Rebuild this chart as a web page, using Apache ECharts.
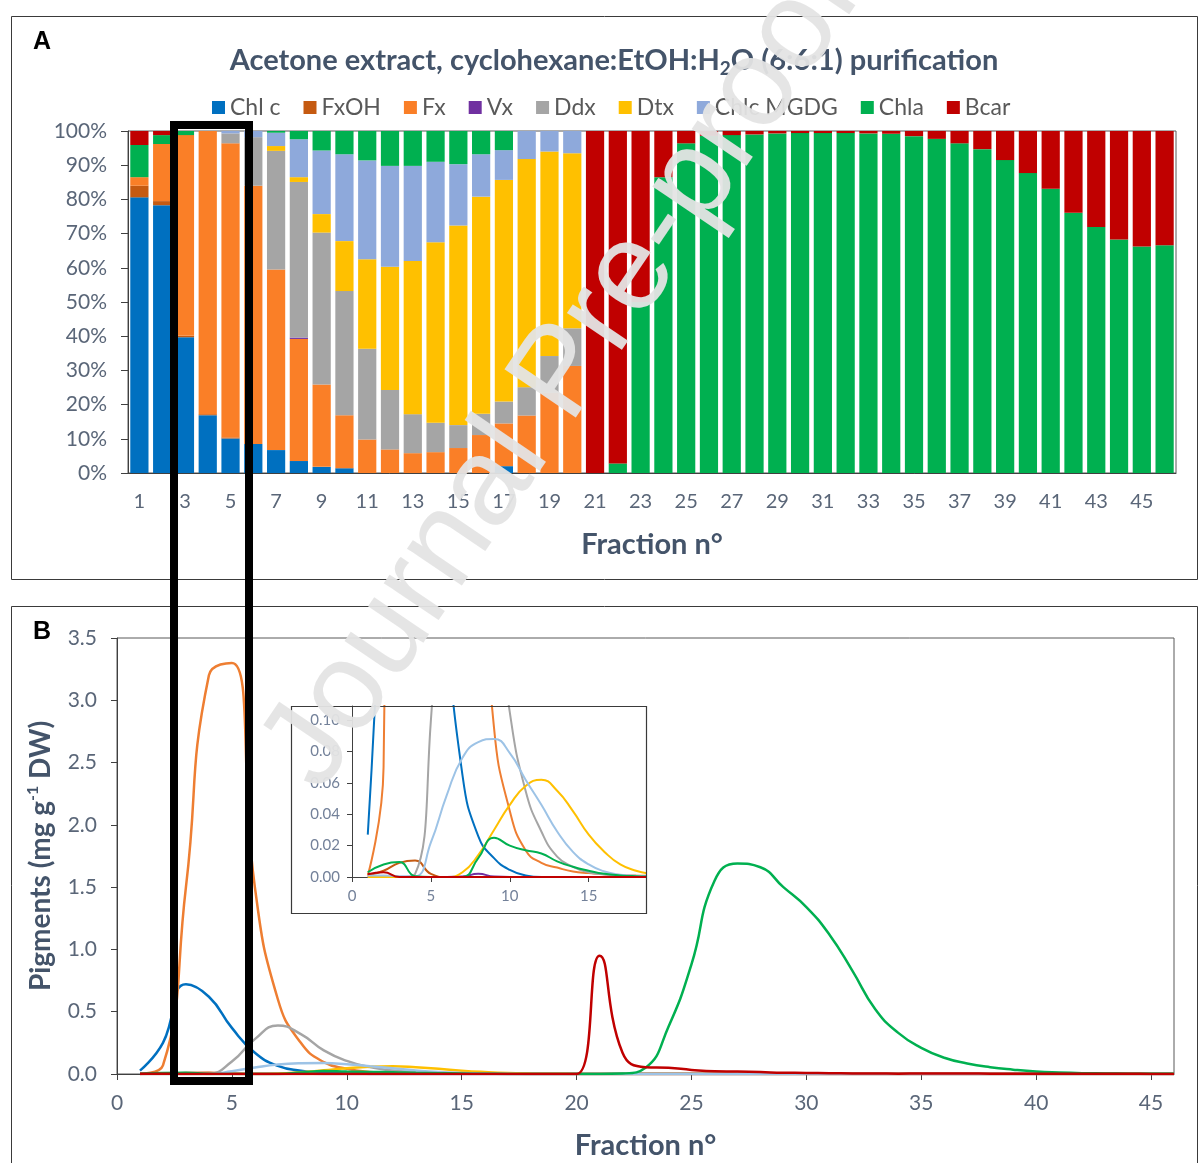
<!DOCTYPE html>
<html><head><meta charset="utf-8">
<script src="https://cdn.jsdelivr.net/npm/echarts@6/dist/echarts.min.js"></script>
<style>html,body{margin:0;padding:0;background:#fff}#c{width:1198px;height:1163px}</style>
</head><body><div id="c"></div>
<script>
// ---------- DATA ----------
const fractions = [1,2,3,4,5,6,7,8,9,10,11,12,13,14,15,16,17,18,19,20,21,22,23,24,25,26,27,28,29,30,31,32,33,34,35,36,37,38,39,40,41,42,43,44,45,46];
const pigmentNames = ['Chl c','FxOH','Fx','Vx','Ddx','Dtx','Chlc MGDG','Chla','Bcar'];

// Panel A: relative composition (%)
const chlcPct = [80.6,78.3,39.7,16.9,10.1,8.5,6.7,3.5,1.8,1.4, 0,0,0,0,0,0,2.0,0,0,0, 0,0,0,0,0,0,0,0,0,0, 0,0,0,0,0,0,0,0,0,0, 0,0,0,0,0,0];
const fxohPct = [3.4,1.2,0.4,0.3,0.3,0,0,0,0,0, 0,0,0,0,0,0,0,0,0,0, 0,0,0,0,0,0,0,0,0,0, 0,0,0,0,0,0,0,0,0,0, 0,0,0,0,0,0];
const fxPct   = [2.5,16.7,58.7,82.8,86.0,75.5,52.8,35.7,24.1,15.5, 9.8,6.9,5.8,6.1,7.3,11.1,12.5,16.8,23.5,31.3, 0,0,0,0,0,0,0,0,0,0, 0,0,0,0,0,0,0,0,0,0, 0,0,0,0,0,0];
const vxPct   = [0,0,0,0,0,0,0,0.4,0,0, 0,0,0,0,0,0,0,0,0,0, 0,0,0,0,0,0,0,0,0,0, 0,0,0,0,0,0,0,0,0,0, 0,0,0,0,0,0];
const ddxPct  = [0,0,0,0,2.9,14.2,34.7,45.5,44.4,36.3, 26.5,17.4,11.4,8.6,6.7,6.2,6.4,8.3,10.7,11.0, 0,0,0,0,0,0,0,0,0,0, 0,0,0,0,0,0,0,0,0,0, 0,0,0,0,0,0];
const dtxPct  = [0,0,0,0,0,0,1.4,1.4,5.4,14.6, 26.2,36.0,44.8,52.8,58.4,63.5,64.8,66.7,59.8,51.2, 0,0,0,0,0,0,0,0,0,0, 0,0,0,0,0,0,0,0,0,0, 0,0,0,0,0,0];
const mgdgPct = [0,0,0,0,0.7,1.8,3.9,11.1,18.6,25.4, 28.9,29.5,27.8,23.5,17.9,12.4,8.7,8.2,6.0,6.5, 0,0,0,0,0,0,0,0,0,0, 0,0,0,0,0,0,0,0,0,0, 0,0,0,0,0,0];
const chlaPct = [9.4,2.6,1.2,0,0,0,0.5,2.4,5.7,6.8, 8.6,10.2,10.2,9.0,9.7,6.8,5.6,0,0,0, 0,2.8,50,86.5,96.4,98.6,98.8,99.0,99.3,99.4, 99.4,99.4,99.3,99.2,98.5,97.7,96.4,94.7,91.5,87.7, 83.1,76.1,71.9,68.3,66.2,66.6];
const bcarPct = [4.1,1.2,0,0,0,0,0,0,0,0, 0,0,0,0,0,0,0,0,0,0, 100,97.2,50,13.5,3.6,1.4,1.2,1.0,0.7,0.6, 0.6,0.6,0.7,0.8,1.5,2.3,3.6,5.3,8.5,12.3, 16.9,23.9,28.1,31.7,33.8,33.4];

// Panel B: pigment amount (mg g-1 DW)
const chlcMg = [0.027,0.25,0.72,0.62,0.37,0.17,0.065,0.026,0.012,0.0045, 0.001,0,0,0,0,0,0.0003,0,0,0, 0,0,0,0,0,0,0,0,0,0, 0,0,0,0,0,0,0,0,0,0, 0,0,0,0,0,0];
const fxohMg = [0.001,0.004,0.009,0.0105,0.002,0,0,0,0,0, 0,0,0,0,0,0,0,0,0,0, 0,0,0,0,0,0,0,0,0,0, 0,0,0,0,0,0,0,0,0,0, 0,0,0,0,0,0];
const fxMg   = [0.001,0.07,1.5,3.2,3.3,1.5,0.6,0.25,0.095,0.042, 0.017,0.009,0.006,0.0035,0.0025,0.0018,0.0012,0.0009,0.0007,0.0005, 0,0,0,0,0,0,0,0,0,0, 0,0,0,0,0,0,0,0,0,0, 0,0,0,0,0,0];
const vxMg   = [0,0,0,0,0,0,0.0003,0.002,0.0003,0, 0,0,0,0,0,0,0,0,0,0, 0,0,0,0,0,0,0,0,0,0, 0,0,0,0,0,0,0,0,0,0, 0,0,0,0,0,0];
const ddxMg  = [0,0,0,0.002,0.1,0.28,0.39,0.32,0.19,0.105, 0.055,0.029,0.013,0.0065,0.003,0.0016,0.001,0.0006,0.0004,0.0003, 0,0,0,0,0,0,0,0,0,0, 0,0,0,0,0,0,0,0,0,0, 0,0,0,0,0,0];
const dtxMg  = [0,0,0,0,0,0,0.003,0.014,0.03,0.046, 0.058,0.062,0.055,0.042,0.027,0.016,0.008,0.004,0.002,0.001, 0,0,0,0,0,0,0,0,0,0, 0,0,0,0,0,0,0,0,0,0, 0,0,0,0,0,0];
const mgdgMg = [0.001,0.001,0.0005,0.0005,0.022,0.052,0.076,0.086,0.088,0.079, 0.062,0.046,0.029,0.016,0.008,0.0035,0.0015,0.0008,0.0005,0.0003, 0,0,0,0,0,0,0,0,0,0, 0,0,0,0,0,0,0,0,0,0, 0,0,0,0,0,0];
const chlaMg = [0.003,0.008,0.0095,0.0005,0,0,0,0.012,0.025,0.02, 0.017,0.015,0.01,0.0065,0.004,0.002,0.001,0.0005,0.0003,0.0002, 0.0002,0.004,0.05,0.38,0.88,1.55,1.69,1.66,1.5,1.34, 1.12,0.83,0.52,0.33,0.21,0.13,0.085,0.055,0.035,0.02, 0.012,0.007,0.005,0.003,0.002,0.002];
const bcarMg = [0.0017,0.003,0,0,0,0,0,0,0,0, 0,0,0,0,0,0,0,0,0,0, 0.95,0.17,0.055,0.05,0.033,0.022,0.02,0.016,0.01,0.009, 0.007,0.005,0.004,0.003,0.0033,0.0033,0.0033,0.003,0.003,0.0028, 0.0025,0.0022,0.002,0.0015,0.001,0.001];

// ---------- STYLE ----------
const barColors  = ['#0070C0','#C55A11','#FA7F27','#7030A0','#A5A5A5','#FFC000','#8EA9DB','#00B050','#C00000'];
const lineColors = ['#0070C0','#C55A11','#EE7E32','#7030A0','#A5A5A5','#FFC000','#9DC3E6','#00B050','#C00000'];
const FONT = 'Lato';
const labelColor = '#5A6678';
const titleColor = '#44546A';
const axisDark = '#404040';
const SMOOTH = 0.5;

const pctSets = [chlcPct,fxohPct,fxPct,vxPct,ddxPct,dtxPct,mgdgPct,chlaPct,bcarPct];
const mgSets  = [chlcMg,fxohMg,fxMg,vxMg,ddxMg,dtxMg,mgdgMg,chlaMg,bcarMg];
const catLabels = fractions.map(String);

const series = [];
pigmentNames.forEach((n,i)=>{
  series.push({name:n, type:'bar', stack:'pct', xAxisIndex:0, yAxisIndex:0,
    barCategoryGap:'20%', itemStyle:{color:barColors[i]}, data:pctSets[i]});
});
pigmentNames.forEach((n,i)=>{
  series.push({name:n+' (B)', type:'line', xAxisIndex:1, yAxisIndex:1, showSymbol:false,
    smooth:SMOOTH, lineStyle:{width:2.5, color:lineColors[i]}, itemStyle:{color:lineColors[i]},
    data:fractions.map((f,k)=>[f, mgSets[i][k]])});
});
pigmentNames.forEach((n,i)=>{
  series.push({name:n+' (inset)', type:'line', xAxisIndex:2, yAxisIndex:2, showSymbol:false,
    smooth:SMOOTH, lineStyle:{width:2, color:lineColors[i]}, itemStyle:{color:lineColors[i]},
    data:fractions.map((f,k)=>[f, mgSets[i][k]])});
});

const nameStyle = {fontSize:29, fontWeight:'bold', color:titleColor, fontFamily:FONT};

const chart = echarts.init(document.getElementById('c'), null, {renderer:'canvas'});
chart.setOption({
  animation:false,
  backgroundColor:'#fff',
  title:{
    text:'{a|Acetone extract, cyclohexane:EtOH:H}{b|2}{a|O (6:6:1) purification}',
    left:609, top:39, textAlign:'center',
    textStyle:{rich:{
      a:{fontSize:29, fontWeight:'bold', color:titleColor, fontFamily:FONT, lineHeight:34},
      b:{fontSize:19, fontWeight:'bold', color:titleColor, fontFamily:FONT, lineHeight:26, verticalAlign:'bottom'}
    }}
  },
  legend:{
    data:pigmentNames, left:207, top:91, itemWidth:13, itemHeight:13, icon:'rect', itemGap:23,
    textStyle:{fontSize:23, color:'#595959', fontFamily:FONT}
  },
  grid:[
    {left:128, top:131, width:1048, height:342, show:true, borderColor:'#595959', borderWidth:1},
    {left:117, top:638, width:1057, height:436, show:true, borderColor:'#595959', borderWidth:1},
    {left:352, top:706, width:294, height:171}
  ],
  xAxis:[
    {gridIndex:0, type:'category', data:catLabels,
      axisLine:{lineStyle:{color:axisDark}}, axisTick:{length:6, lineStyle:{color:axisDark}},
      axisLabel:{interval:1, margin:19, fontSize:20, color:labelColor, fontFamily:FONT},
      name:'Fraction n°', nameLocation:'middle', nameGap:57, nameTextStyle:nameStyle},
    {gridIndex:1, type:'value', min:0, max:46, interval:5,
      axisLine:{lineStyle:{color:axisDark}}, axisTick:{length:6, lineStyle:{color:axisDark}},
      splitLine:{show:false},
      axisLabel:{margin:19, fontSize:21, color:labelColor, fontFamily:FONT, showMaxLabel:false},
      name:'Fraction n°', nameLocation:'middle', nameGap:57, nameTextStyle:nameStyle},
    {gridIndex:2, type:'value', min:0, max:18.63, interval:5,
      axisLine:{lineStyle:{color:axisDark}}, axisTick:{length:5, lineStyle:{color:axisDark}},
      splitLine:{show:false},
      axisLabel:{margin:12, fontSize:15, color:'#738199', fontFamily:FONT, showMaxLabel:false}}
  ],
  yAxis:[
    {gridIndex:0, type:'value', min:0, max:100, interval:10,
      axisLine:{show:true, lineStyle:{color:axisDark}}, axisTick:{show:true, length:7, lineStyle:{color:axisDark}},
      splitLine:{show:false},
      axisLabel:{formatter:'{value}%', margin:21, fontSize:21, color:labelColor, fontFamily:FONT}},
    {gridIndex:1, type:'value', min:0, max:3.5, interval:0.5,
      axisLine:{show:true, lineStyle:{color:axisDark}}, axisTick:{show:true, length:6, lineStyle:{color:axisDark}},
      splitLine:{show:false},
      axisLabel:{formatter:v=>v.toFixed(1), margin:20, fontSize:21, color:labelColor, fontFamily:FONT},
      name:'{a|Pigments (mg g}{s|-1}{a| DW)}', nameLocation:'middle', nameGap:60, nameRotate:90,
      nameTextStyle:{rich:{
        a:{fontSize:28, fontWeight:'bold', color:titleColor, fontFamily:FONT, lineHeight:32},
        s:{fontSize:16, fontWeight:'bold', color:titleColor, fontFamily:FONT, lineHeight:32, verticalAlign:'top'}
      }}},
    {gridIndex:2, type:'value', min:0, max:0.109, interval:0.02,
      axisLine:{show:true, lineStyle:{color:axisDark}}, axisTick:{show:true, length:5, lineStyle:{color:axisDark}},
      splitLine:{show:false},
      axisLabel:{formatter:v=>v.toFixed(2), margin:12, fontSize:15, color:'#738199', fontFamily:FONT, showMaxLabel:false}}
  ],
  graphic:[
    {type:'rect', shape:{x:11.5, y:16.5, width:1186, height:563}, style:{fill:'none', stroke:'#3a3a3a', lineWidth:1}, z:50},
    {type:'rect', shape:{x:11.5, y:606.5, width:1186, height:600}, style:{fill:'none', stroke:'#3a3a3a', lineWidth:1}, z:50},
    {type:'rect', shape:{x:291.5, y:706.5, width:355, height:207}, style:{fill:'none', stroke:'#3a3a3a', lineWidth:1.2}, z:50},
    {type:'text', x:33, y:42, style:{text:'A', font:'bold 25px "Liberation Sans"', fill:'#000', textVerticalAlign:'middle'}, z:50},
    {type:'text', x:33, y:632, style:{text:'B', font:'bold 25px "Liberation Sans"', fill:'#000', textVerticalAlign:'middle'}, z:50},
    {type:'rect', shape:{x:174, y:125, width:75, height:956}, style:{fill:'none', stroke:'#000', lineWidth:8}, z:60},
    {type:'text', x:563, y:375, rotation:0.975,
      style:{text:'Journal Pre-proof', font:'normal 125px "Liberation Sans"', fill:'rgba(228,228,228,0.95)', textAlign:'center', textVerticalAlign:'middle'}, z:70}
  ],
  series:series
});
</script>
</body></html>
